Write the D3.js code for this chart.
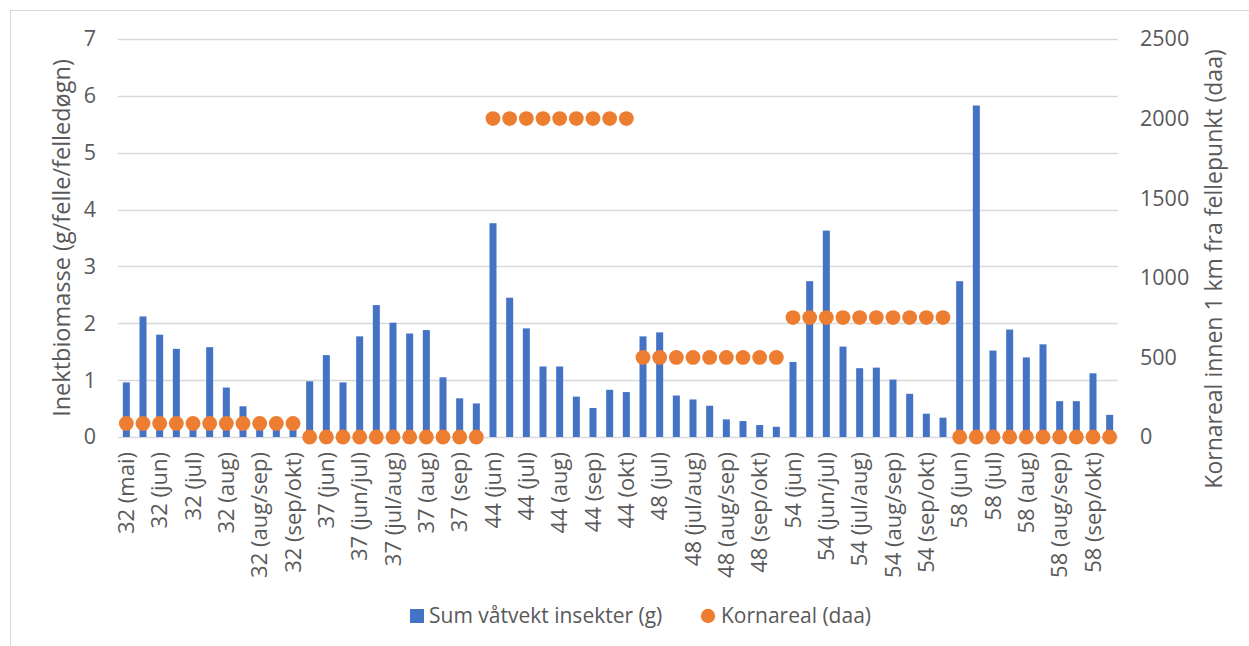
<!DOCTYPE html>
<html>
<head>
<meta charset="utf-8">
<script src="https://cdn.jsdelivr.net/npm/d3@7/dist/d3.min.js"></script>
<style>
  html, body { margin: 0; padding: 0; background: #fff; }
  svg { display: block; font-family: "Open Sans", "Segoe UI", sans-serif; }
</style>
</head>
<body>
<svg id="chart" width="1249" height="646"></svg>
<script>
// Trap sites and sampling periods (every other label is shown on the axis)
const categories = [
  "32 (mai)", "32 (mai/jun)", "32 (jun)", "32 (jun/jul)", "32 (jul)", "32 (jul/aug)",
  "32 (aug)", "32 (aug) ", "32 (aug/sep)", "32 (sep)", "32 (sep/okt)",
  "37 (mai/jun)", "37 (jun)", "37 (jun) ", "37 (jun/jul)", "37 (jul)", "37 (jul/aug)",
  "37 (aug) ", "37 (aug)", "37 (aug/sep)", "37 (sep)", "37 (sep/okt)",
  "44 (jun)", "44 (jun/jul)", "44 (jul)", "44 (jul/aug)", "44 (aug)", "44 (aug/sep)",
  "44 (sep)", "44 (sep/okt)", "44 (okt)",
  "48 (jun)", "48 (jul)", "48 (jul) ", "48 (jul/aug)", "48 (aug)", "48 (aug/sep)",
  "48 (sep)", "48 (sep/okt)", "48 (okt)",
  "54 (jun)", "54 (jun) ", "54 (jun/jul)", "54 (jul)", "54 (jul/aug)", "54 (aug)",
  "54 (aug/sep)", "54 (sep)", "54 (sep/okt)", "54 (okt)",
  "58 (jun)", "58 (jun/jul)", "58 (jul)", "58 (jul/aug)", "58 (aug)", "58 (aug) ",
  "58 (aug/sep)", "58 (sep)", "58 (sep/okt)", "58 (okt)"
];

// Sum wet weight of insects (g per trap per trap-day)
const biomass = [
  0.96, 2.12, 1.80, 1.55, 0.25, 1.58, 0.87, 0.54, 0.20, 0.20, 0.15,
  0.98, 1.44, 0.96, 1.77, 2.32, 2.01, 1.82, 1.88, 1.05, 0.68, 0.59,
  3.76, 2.45, 1.91, 1.24, 1.24, 0.71, 0.51, 0.83, 0.79,
  1.77, 1.84, 0.73, 0.66, 0.55, 0.31, 0.28, 0.21, 0.18,
  1.32, 2.74, 3.63, 1.59, 1.21, 1.22, 1.01, 0.76, 0.41, 0.34,
  2.74, 5.83, 1.52, 1.89, 1.40, 1.63, 0.63, 0.63, 1.12, 0.39
];

// Grain area within 1 km of the trap (daa)
const grainArea = [
  85, 85, 85, 85, 85, 85, 85, 85, 85, 85, 85,
  0, 0, 0, 0, 0, 0, 0, 0, 0, 0, 0,
  2000, 2000, 2000, 2000, 2000, 2000, 2000, 2000, 2000,
  500, 500, 500, 500, 500, 500, 500, 500, 500,
  750, 750, 750, 750, 750, 750, 750, 750, 750, 750,
  0, 0, 0, 0, 0, 0, 0, 0, 0, 0
];

const leftTicks = [0, 1, 2, 3, 4, 5, 6, 7];
const rightTicks = [0, 500, 1000, 1500, 2000, 2500];

const seriesNames = ["Sum våtvekt insekter (g)", "Kornareal (daa)"];
const leftTitle = "Inektbiomasse (g/felle/felledøgn)";
const rightTitle = "Kornareal innen 1 km fra fellepunkt (daa)";

const barColor = "#4472C4";
const dotColor = "#ED7D31";
const textColor = "#595959";
const gridColor = "#D9D9D9";

const svg = d3.select("#chart");
const plot = { left: 118, right: 1118, top: 39, bottom: 437 };

// Chart frame
svg.append("rect")
  .attr("x", 10.5).attr("y", 10.5)
  .attr("width", 1260).attr("height", 660)
  .attr("fill", "none").attr("stroke", gridColor).attr("stroke-width", 1);

const x = d3.scaleBand()
  .domain(categories)
  .range([plot.left, plot.right])
  .paddingInner(0.58).paddingOuter(0.29);

const yLeft = d3.scaleLinear().domain([0, 7]).range([plot.bottom, plot.top]);
const yRight = d3.scaleLinear().domain([0, 2500]).range([plot.bottom, plot.top]);

// Horizontal gridlines (from the left axis)
svg.append("g")
  .selectAll("line")
  .data(leftTicks)
  .join("line")
  .attr("x1", plot.left).attr("x2", plot.right)
  .attr("y1", d => Math.round(yLeft(d)) + 0.5)
  .attr("y2", d => Math.round(yLeft(d)) + 0.5)
  .attr("stroke", gridColor).attr("stroke-width", 1.3);

// Left axis labels
const leftAxis = d3.axisLeft(yLeft).tickValues(leftTicks).tickFormat(d3.format("d"))
  .tickSize(0).tickPadding(0);
const gL = svg.append("g").attr("transform", `translate(${plot.left - 22},0)`).call(leftAxis);
gL.select(".domain").remove();
gL.selectAll("text").attr("fill", textColor).style("font-size", "21.5px")
  .style("font-family", "'Open Sans', sans-serif");

// Right axis labels
const rightAxis = d3.axisRight(yRight).tickValues(rightTicks).tickFormat(d3.format("d"))
  .tickSize(0).tickPadding(0);
const gR = svg.append("g").attr("transform", `translate(${plot.right + 22},0)`).call(rightAxis);
gR.select(".domain").remove();
gR.selectAll("text").attr("fill", textColor).style("font-size", "21.5px")
  .style("font-family", "'Open Sans', sans-serif");

// Category axis: rotated labels on every second category
const bottomAxis = d3.axisBottom(x)
  .tickValues(categories.filter((d, i) => i % 2 === 0))
  .tickSize(0).tickPadding(0);
const gB = svg.append("g").attr("transform", `translate(0,${plot.bottom})`).call(bottomAxis);
gB.select(".domain").remove();
gB.selectAll("text")
  .attr("fill", textColor).style("font-size", "22px")
  .style("font-family", "'Open Sans', sans-serif")
  .attr("text-anchor", "end")
  .attr("transform", "rotate(-90)")
  .attr("x", -15).attr("y", 0).attr("dy", "0.35em");

// Bars
svg.append("g")
  .selectAll("rect")
  .data(categories.map((c, i) => ({ c, v: biomass[i] })))
  .join("rect")
  .attr("x", d => x(d.c))
  .attr("width", x.bandwidth())
  .attr("y", d => yLeft(d.v))
  .attr("height", d => yLeft(0) - yLeft(d.v))
  .attr("fill", barColor);

// Grain area markers
svg.append("g")
  .selectAll("circle")
  .data(categories.map((c, i) => ({ c, v: grainArea[i] })))
  .join("circle")
  .attr("cx", d => x(d.c) + x.bandwidth() / 2)
  .attr("cy", d => yRight(d.v))
  .attr("r", 7.4)
  .attr("fill", dotColor);

// Axis titles
svg.append("text")
  .attr("transform", `translate(62,238) rotate(-90)`)
  .attr("text-anchor", "middle").attr("dy", "0.35em")
  .attr("fill", textColor).style("font-size", "23.5px")
  .text(leftTitle);

svg.append("text")
  .attr("transform", `translate(1214,269) rotate(-90)`)
  .attr("text-anchor", "middle").attr("dy", "0.35em")
  .attr("fill", textColor).style("font-size", "23px")
  .text(rightTitle);

// Legend
const legend = svg.append("g").attr("transform", "translate(0,616)");
legend.append("rect").attr("x", 410).attr("y", -7).attr("width", 14).attr("height", 14).attr("fill", barColor);
legend.append("text").attr("x", 429).attr("y", 0).attr("dy", "0.35em")
  .attr("fill", textColor).style("font-size", "21px").text(seriesNames[0]);
legend.append("circle").attr("cx", 708).attr("cy", 0).attr("r", 7.2).attr("fill", dotColor);
legend.append("text").attr("x", 721).attr("y", 0).attr("dy", "0.35em")
  .attr("fill", textColor).style("font-size", "21px").text(seriesNames[1]);
</script>
</body>
</html>
